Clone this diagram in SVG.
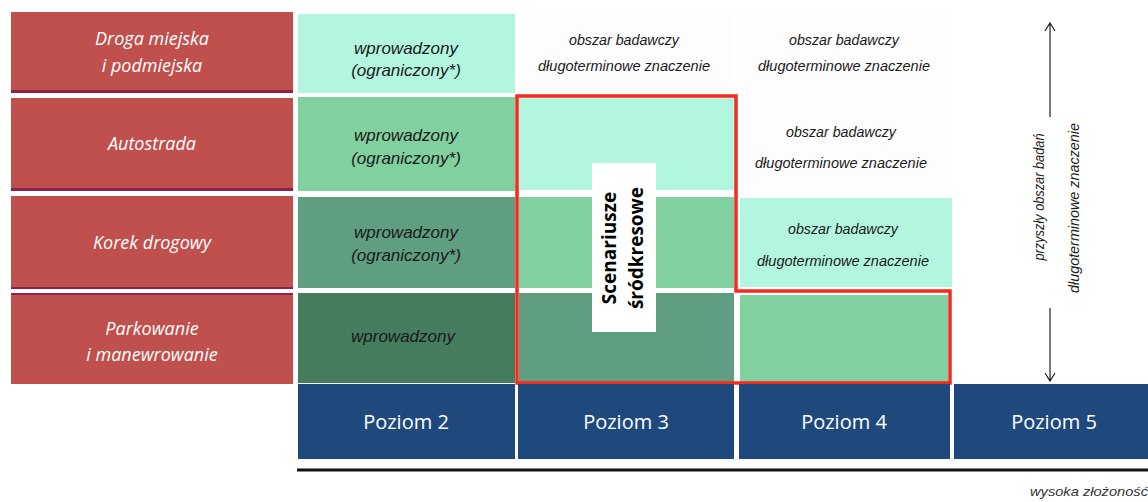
<svg xmlns="http://www.w3.org/2000/svg" width="1148" height="502" viewBox="0 0 1148 502">
<defs>
<style>
.lbl{fill:#c0504d}
.lblb{fill:#8e2444}
.lt{font-family:"Open Sans","Liberation Sans",sans-serif;font-style:italic;font-size:18px;fill:#ffffff;text-anchor:middle}
.gt{font-family:"Liberation Sans",Arial,sans-serif;font-style:italic;font-size:17px;fill:#1a1a1a;text-anchor:middle}
.ot{font-family:"Liberation Sans",Arial,sans-serif;font-style:italic;font-size:15px;fill:#1a1a1a;text-anchor:middle}
.pt{font-family:"Open Sans","Liberation Sans",sans-serif;font-size:20px;fill:#ffffff;text-anchor:middle}
.c1{fill:#b3f6e0}
.c2{fill:#80d0a0}
.c3{fill:#5f9e80}
.c4{fill:#467c5e}
.blue{fill:#1f497d}
.arr{stroke:#222;stroke-width:1.2;fill:none}
</style>
</defs>
<rect width="1148" height="502" fill="#ffffff"/>

<g id="row-droga">
<rect class="lbl" x="11" y="12" width="282" height="81"/>
<rect class="lblb" x="11" y="90" width="282" height="3"/>
<text class="lt" x="152" y="45">Droga miejska</text>
<text class="lt" x="152" y="72">i podmiejska</text>
</g>
<g id="row-autostrada">
<rect class="lbl" x="11" y="98" width="282" height="93"/>
<rect class="lblb" x="11" y="188" width="282" height="3"/>
<text class="lt" x="152" y="150">Autostrada</text>
</g>
<g id="row-korek">
<rect class="lbl" x="11" y="196" width="282" height="93"/>
<rect class="lblb" x="11" y="287" width="282" height="2"/>
<text class="lt" x="152" y="249">Korek drogowy</text>
</g>
<g id="row-parkowanie">
<rect class="lbl" x="11" y="293" width="282" height="91"/>
<rect class="lblb" x="11" y="293" width="282" height="2"/>
<text class="lt" x="152" y="335">Parkowanie</text>
<text class="lt" x="152" y="361">i manewrowanie</text>
</g>

<g id="l2-droga">
<rect class="c1" x="298" y="14" width="217" height="79"/>
<text class="gt" x="406" y="54">wprowadzony</text>
<text class="gt" x="406" y="76">(ograniczony*)</text>
</g>
<g id="l2-autostrada">
<rect class="c2" x="298" y="97" width="217" height="94"/>
<text class="gt" x="406" y="141">wprowadzony</text>
<text class="gt" x="406" y="164">(ograniczony*)</text>
</g>
<g id="l2-korek">
<rect class="c3" x="298" y="197" width="217" height="91"/>
<text class="gt" x="406" y="238">wprowadzony</text>
<text class="gt" x="406" y="261">(ograniczony*)</text>
</g>
<g id="l2-parkowanie">
<rect class="c4" x="298" y="293" width="217" height="90"/>
<text class="gt" x="403" y="342">wprowadzony</text>
</g>

<g id="l3-droga">
<rect x="519" y="14" width="215" height="79" fill="#fdfdfd"/>
<text class="ot" x="624" y="45" textLength="110" lengthAdjust="spacingAndGlyphs">obszar badawczy</text>
<text class="ot" x="624" y="71" textLength="172" lengthAdjust="spacingAndGlyphs">długoterminowe znaczenie</text>
</g>
<g id="l3-cells">
<rect class="c1" x="519" y="98" width="215" height="92"/>
<rect class="c2" x="519" y="197" width="215" height="91"/>
<rect class="c3" x="519" y="293" width="215" height="89"/>
</g>

<g id="l4-droga">
<rect x="740" y="14" width="212" height="79" fill="#fdfdfd"/>
<text class="ot" x="844" y="45" textLength="110" lengthAdjust="spacingAndGlyphs">obszar badawczy</text>
<text class="ot" x="844" y="71" textLength="172" lengthAdjust="spacingAndGlyphs">długoterminowe znaczenie</text>
</g>
<g id="l4-autostrada">
<rect x="740" y="98" width="212" height="92" fill="#fdfdfd"/>
<text class="ot" x="841" y="137" textLength="110" lengthAdjust="spacingAndGlyphs">obszar badawczy</text>
<text class="ot" x="841" y="168" textLength="172" lengthAdjust="spacingAndGlyphs">długoterminowe znaczenie</text>
</g>
<g id="l4-korek">
<rect class="c1" x="740" y="198" width="212" height="89"/>
<text class="ot" x="843" y="234" textLength="110" lengthAdjust="spacingAndGlyphs">obszar badawczy</text>
<text class="ot" x="843" y="266" textLength="172" lengthAdjust="spacingAndGlyphs">długoterminowe znaczenie</text>
</g>
<g id="l4-parkowanie">
<rect class="c2" x="740" y="295" width="208" height="87"/>
</g>

<g id="scenariusze">
<path d="M517,96 H736 V291 H950 V383 H517 Z" fill="none" stroke="#f52a1c" stroke-width="3.5" stroke-linejoin="miter"/>
<rect x="592" y="163" width="64" height="169" fill="#ffffff"/>
<text transform="translate(616,248) rotate(-90)" font-family="'Open Sans','Liberation Sans',sans-serif" font-weight="bold" font-size="19" fill="#000" text-anchor="middle">Scenariusze</text>
<text transform="translate(643,248) rotate(-90)" font-family="'Open Sans','Liberation Sans',sans-serif" font-weight="bold" font-size="19" fill="#000" text-anchor="middle">śródkresowe</text>
</g>

<g id="l5-future">
<text transform="translate(1044,197) rotate(-90)" class="ot" font-size="13" textLength="127" lengthAdjust="spacingAndGlyphs">przyszły obszar badań</text>
<text transform="translate(1079,208) rotate(-90)" class="ot" font-size="13" textLength="170" lengthAdjust="spacingAndGlyphs">długoterminowe znaczenie</text>
</g>

<g id="connectors">
<path class="arr" d="M1050,117 V23 M1045,31 L1050,23 L1055,31"/>
<path class="arr" d="M1050,308 V381 M1045,373 L1050,381 L1055,373"/>
<line x1="297" y1="470" x2="1148" y2="470" stroke="#111" stroke-width="3"/>
</g>

<g id="poziom2"><rect class="blue" x="298" y="384" width="217" height="75"/><text class="pt" x="406" y="429">Poziom 2</text></g>
<g id="poziom3"><rect class="blue" x="518" y="384" width="216" height="75"/><text class="pt" x="626" y="429">Poziom 3</text></g>
<g id="poziom4"><rect class="blue" x="739" y="384" width="211" height="75"/><text class="pt" x="844" y="429">Poziom 4</text></g>
<g id="poziom5"><rect class="blue" x="954" y="384" width="194" height="75"/><text class="pt" x="1054" y="429">Poziom 5</text></g>

<g id="axis-label">
<text x="1030" y="496" font-family="'Liberation Sans',Arial,sans-serif" font-style="italic" font-size="13" fill="#333" textLength="118" lengthAdjust="spacingAndGlyphs">wysoka złożoność</text>
</g>
</svg>
